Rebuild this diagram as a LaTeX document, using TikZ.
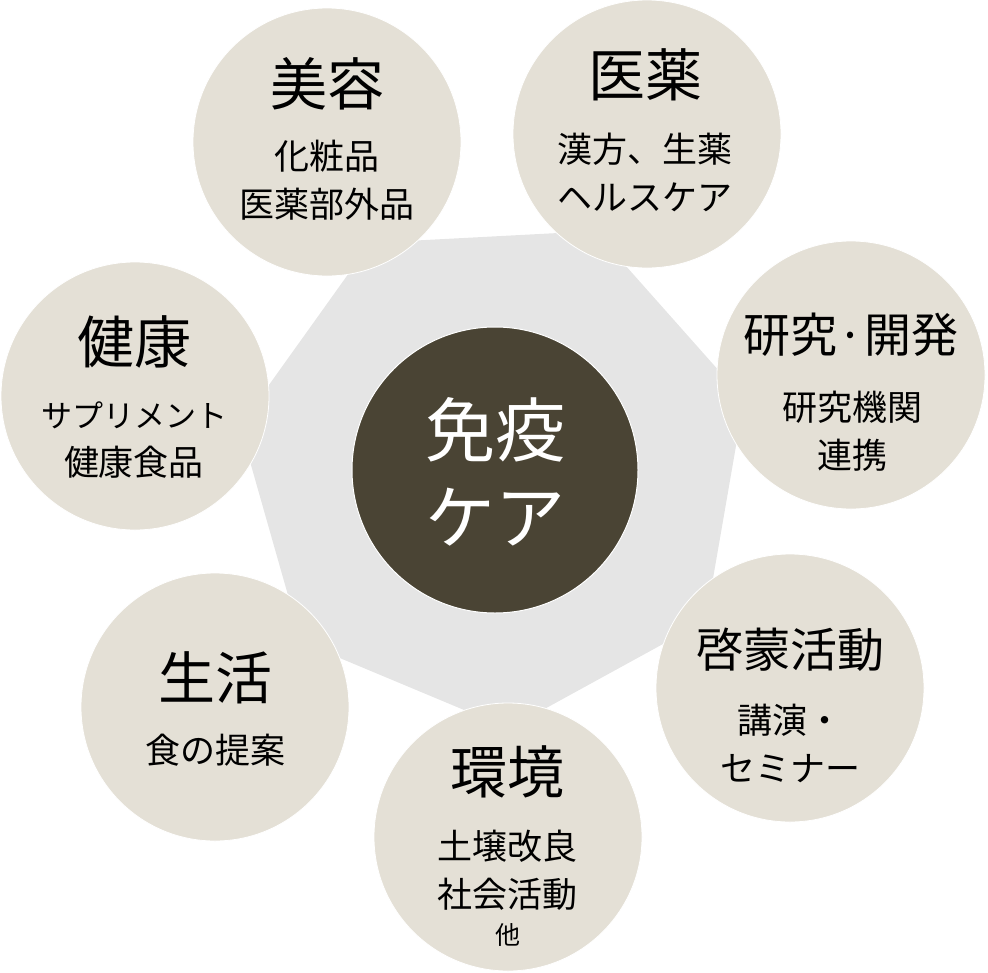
\documentclass[tikz,border=0pt]{standalone}
\usepackage{fontspec}
\setmainfont{Noto Sans CJK JP}
\usepackage{tikz}
\usetikzlibrary{positioning,calc}
\usepackage{xcolor}
\definecolor{hexgray}{RGB}{229,229,229}
\definecolor{bubblebeige}{RGB}{228,224,214}
\definecolor{coredark}{RGB}{74,68,52}
\tikzset{
    bubble/.style={circle, fill=bubblebeige, draw=white, line width=0.8pt, minimum size=268pt, inner sep=0pt},
    core/.style={circle, fill=coredark, draw=white, line width=1pt, minimum size=286pt, inner sep=0pt},
    coretext/.style={text=white, align=center, inner sep=0pt, font=\fontsize{70}{87}\selectfont},
    heading/.style={inner sep=0pt, font=\fontsize{57}{60}\selectfont},
    headingS/.style={inner sep=0pt, font=\fontsize{47}{50}\selectfont},
    detail/.style={align=center, inner sep=0pt, font=\fontsize{35}{48}\selectfont},
}

\begin{document}
\begin{tikzpicture}[x=1pt, y=-1pt]
    \useasboundingbox (0,0) rectangle (988,972);

    % Heptagon behind everything
    \begin{scope}[shift={(495,470)}]
        \fill[hexgray] (-67.3:259) \foreach \k in {1,...,6} { -- (-67.3-\k*51.43:259) } -- cycle;
    \end{scope}

    % Core circle
    \node[core] (core) at (495,470) {};
    \node[coretext] (coreT) at (495,472) {免疫\\ケア};

    % Outer circles
    \foreach \x/\y/\name in {327/142/biyou, 647/134/iyaku, 851/375/kenkyu, 790/688/keimou,
                             508/837/kankyo, 215/707/seikatsu, 135/396/kenkou} {
        \node[bubble] (\name) at (\x,\y) {};
    }

    % Headings
    \node[heading]  (biyouT)    at (327,84)  {美容};
    \node[heading]  (iyakuT)    at (645,75)  {医薬};
    \node[headingS] (kenkyuT)   at (851,335) {研究·開発};
    \node[headingS] (keimouT)   at (790,650) {啓蒙活動};
    \node[heading]  (kankyoT)   at (507,772) {環境};
    \node[heading]  (seikatsuT) at (215,678) {生活};
    \node[heading]  (kenkouT)   at (134,342) {健康};

    % Details
    \node[detail] (biyouD)    at (327,180) {化粧品\\医薬部外品};
    \node[detail] (iyakuD)    at (645,172) {漢方、生薬\\ヘルスケア};
    \node[detail] (kenkyuD)   at (852,431) {研究機関\\連携};
    \node[detail] (keimouD)   at (790,743) {講演・\\セミナー};
    \node[detail] (kankyoD)   at (507,870) {土壌改良\\社会活動};
    \node[font=\fontsize{25}{28}\selectfont, inner sep=0pt] (kankyoE) at (508,935) {他};
    \node[detail] (seikatsuD) at (215,750) {食の提案};
    \node[detail] (kenkouD)   at (134,440) {{\fontsize{31}{48}\selectfont サプリメント}\\健康食品};
\end{tikzpicture}
\end{document}
